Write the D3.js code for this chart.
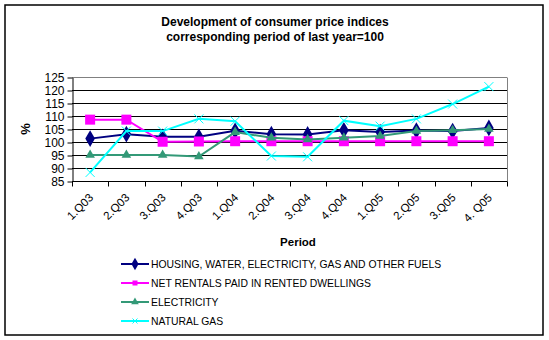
<!DOCTYPE html>
<html>
  <head>
    <style>
      body {
        margin: 0;
        background: #fff;
      }
      svg text {
        font-family: "Liberation Sans", Arial, sans-serif;
        fill: #000;
      }
    </style>
    <script src="https://d3js.org/d3.v7.min.js"></script>
  </head>
  <body>
    <script>
      const width = 549;
      const height = 340;

      // quarters along the x axis
      const periods = ["1.Q03", "2.Q03", "3.Q03", "4.Q03", "1.Q04", "2.Q04", "3.Q04", "4.Q04", "1.Q05", "2.Q05", "3.Q05", "4.  Q05"];
      const yTicks = [85, 90, 95, 100, 105, 110, 115, 120, 125];

      const housing = [101.3, 103, 102, 102, 104.3, 103, 102.9, 104.5, 103.8, 104.4, 104.2, 105.4];
      const rentals = [108.6, 108.6, 100.1, 100.2, 100.3, 100.3, 100.3, 100.3, 100.3, 100.3, 100.3, 100.3];
      const electricity = [95, 95, 95, 94.4, 103.8, 101.6, 101, 101.6, 102.3, 104.2, 104.5, 105];
      const naturalGas = [88.3, 104.2, 104.2, 108.9, 108, 94.6, 94.3, 108.2, 106.1, 108.9, 114.6, 121.3];

      const series = [
        { name: "HOUSING, WATER, ELECTRICITY, GAS AND OTHER FUELS", values: housing, color: "#000080", marker: "diamond" },
        { name: "NET RENTALS PAID IN RENTED DWELLINGS", values: rentals, color: "#ff00ff", marker: "square" },
        { name: "ELECTRICITY", values: electricity, color: "#339977", marker: "triangle" },
        { name: "NATURAL GAS", values: naturalGas, color: "#00ffff", marker: "cross" }
      ];

      const plot = { left: 72, right: 507, top: 77, bottom: 181 };

      const svg = d3.select("body").append("svg")
        .attr("width", width)
        .attr("height", height);

      // outer chart frame
      svg.append("rect")
        .attr("x", 5).attr("y", 5)
        .attr("width", 538).attr("height", 330)
        .attr("fill", "#fff")
        .attr("stroke", "#000")
        .attr("stroke-width", 1.5);

      svg.append("text")
        .attr("x", 275).attr("y", 26)
        .attr("text-anchor", "middle")
        .style("font-size", "12px")
        .style("font-weight", "bold")
        .text("Development of consumer price indices");
      svg.append("text")
        .attr("x", 275).attr("y", 41)
        .attr("text-anchor", "middle")
        .style("font-size", "12px")
        .style("font-weight", "bold")
        .text("corresponding period of last year=100");

      const x = d3.scaleBand().domain(periods).range([plot.left, plot.right]);
      const y = d3.scaleLinear().domain([85, 125]).range([plot.bottom, plot.top]);

      // horizontal gridlines
      svg.append("g")
        .selectAll("line")
        .data(yTicks.slice(1))
        .enter()
        .append("line")
        .attr("x1", plot.left).attr("x2", plot.right)
        .attr("y1", d => Math.round(y(d)) + 0.5).attr("y2", d => Math.round(y(d)) + 0.5)
        .attr("stroke", d => d === 125 ? "#808080" : "#000")
        .attr("stroke-width", 1);

      // right edge of plot area
      svg.append("line")
        .attr("x1", plot.right + 0.5).attr("x2", plot.right + 0.5)
        .attr("y1", Math.round(y(125)) + 0.5).attr("y2", plot.bottom)
        .attr("stroke", "#808080");

      const yAxis = svg.append("g")
        .attr("transform", "translate(" + (plot.left + 0.5) + ",0.5)")
        .call(d3.axisLeft(y).tickValues(yTicks).tickSize(5).tickPadding(3).tickSizeOuter(0));
      yAxis.selectAll("text").style("font-size", "12px").attr("font-family", null);
      yAxis.selectAll("line, path").attr("stroke", "#000");

      // x axis with ticks between categories
      const xAxis = svg.append("g").attr("transform", "translate(0," + (Math.round(plot.bottom) + 0.5) + ")");
      xAxis.append("line")
        .attr("x1", plot.left).attr("x2", plot.right + 0.5)
        .attr("stroke", "#000");
      xAxis.selectAll(".tick")
        .data(periods.concat([null]))
        .enter()
        .append("line")
        .attr("x1", (d, i) => Math.round(plot.left + i * x.step()) + 0.5)
        .attr("x2", (d, i) => Math.round(plot.left + i * x.step()) + 0.5)
        .attr("y1", 0).attr("y2", 5)
        .attr("stroke", "#000");
      xAxis.selectAll("text")
        .data(periods)
        .enter()
        .append("text")
        .attr("transform", d => "translate(" + (x(d) + x.bandwidth() / 2 + 1) + ",14) rotate(-45)")
        .attr("text-anchor", "end")
        .attr("dy", "0.35em")
        .style("font-size", "11.5px")
        .text(d => d);

      svg.append("text")
        .attr("x", 298).attr("y", 246)
        .attr("text-anchor", "middle")
        .style("font-size", "11.5px")
        .style("font-weight", "bold")
        .text("Period");

      svg.append("text")
        .attr("transform", "translate(30,129) rotate(-90)")
        .attr("text-anchor", "middle")
        .style("font-size", "13px")
        .style("font-weight", "bold")
        .text("%");

      const cx = (d, i) => x(periods[i]) + x.bandwidth() / 2;

      const line = d3.line()
        .x(cx)
        .y(d => y(d));

      function drawMarker(g, type, color, size) {
        if (type === "diamond") {
          g.append("path").attr("d", d3.symbol(d3.symbolDiamond, size * 9)()).attr("fill", color);
        } else if (type === "square") {
          g.append("rect").attr("x", -size / 2).attr("y", -size / 2)
            .attr("width", size).attr("height", size).attr("fill", color);
        } else if (type === "triangle") {
          g.append("path").attr("d", d3.symbol(d3.symbolTriangle, size * 5)()).attr("fill", color);
        } else {
          const s = size / 2;
          g.append("path").attr("d", `M${-s},${-s}L${s},${s}M${-s},${s}L${s},${-s}`)
            .attr("stroke", color).attr("stroke-width", 1).attr("fill", "none");
        }
      }

      const sizes = { diamond: 9, square: 10, triangle: 8, cross: 9 };

      series.forEach(s => {
        svg.append("path")
          .datum(s.values)
          .attr("d", line)
          .attr("fill", "none")
          .attr("stroke", s.color)
          .attr("stroke-width", 2);
        svg.append("g")
          .selectAll("g")
          .data(s.values)
          .enter()
          .append("g")
          .attr("transform", (d, i) => "translate(" + cx(d, i) + "," + y(d) + ")")
          .each(function () { drawMarker(d3.select(this), s.marker, s.color, sizes[s.marker]); });
      });

      // legend
      const legend = svg.append("g")
        .selectAll("g")
        .data(series)
        .enter()
        .append("g")
        .attr("transform", (d, i) => "translate(121," + (264 + i * 19) + ")");
      legend.append("line")
        .attr("x1", 0).attr("x2", 28)
        .attr("stroke", d => d.color)
        .attr("stroke-width", 2);
      legend.each(function (d) {
        const g = d3.select(this).append("g").attr("transform", "translate(14,0)");
        drawMarker(g, d.marker, d.color, 5);
      });
      legend.append("text")
        .attr("x", 30)
        .attr("dy", "0.35em")
        .style("font-size", "10.4px")
        .text(d => d.name);
    </script>
  </body>
</html>
